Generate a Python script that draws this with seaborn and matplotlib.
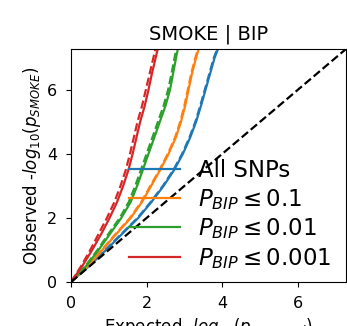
import matplotlib
matplotlib.use("Agg")
import matplotlib.pyplot as plt
import seaborn as sns
import pandas as pd
import numpy as np

# Observed -log10 p grid (y) and expected -log10 p (x) per subset
obs = [0, 0.5, 1.0, 1.5, 2.0, 2.5, 3.0, 3.5, 4.0, 4.5, 5.0, 5.5, 6.0, 6.5, 7.0, 7.4]
exp_all = [0, 0.48, 0.93, 1.35, 1.78, 2.13, 2.45, 2.73, 2.96, 3.15, 3.31, 3.44, 3.56, 3.68, 3.80, 3.93]
exp_p1 = [0, 0.45, 0.83, 1.20, 1.58, 1.88, 2.12, 2.36, 2.58, 2.77, 2.91, 3.02, 3.11, 3.20, 3.31, 3.41]
exp_p01 = [0, 0.40, 0.73, 1.03, 1.33, 1.58, 1.75, 1.90, 2.05, 2.20, 2.35, 2.50, 2.62, 2.70, 2.78, 2.85]
exp_p001 = [0, 0.30, 0.56, 0.80, 1.02, 1.22, 1.38, 1.52, 1.63, 1.73, 1.83, 1.95, 2.05, 2.14, 2.24, 2.32]
# dashed (second estimate) curves
exp_all_d = [0, 0.47, 0.91, 1.33, 1.76, 2.11, 2.43, 2.71, 2.94, 3.13, 3.29, 3.42, 3.54, 3.66, 3.78, 3.91]
exp_p1_d = [0, 0.44, 0.81, 1.18, 1.56, 1.86, 2.10, 2.34, 2.56, 2.75, 2.89, 3.00, 3.09, 3.18, 3.29, 3.39]
exp_p01_d = [0, 0.38, 0.70, 0.99, 1.29, 1.53, 1.70, 1.85, 2.00, 2.15, 2.30, 2.45, 2.57, 2.66, 2.74, 2.81]
exp_p001_d = [0, 0.27, 0.51, 0.73, 0.95, 1.15, 1.31, 1.45, 1.56, 1.66, 1.76, 1.88, 1.98, 2.08, 2.18, 2.26]

labels = ["All SNPs", r"$P_{BIP} \leq 0.1$", r"$P_{BIP} \leq 0.01$", r"$P_{BIP} \leq 0.001$"]
colors = ["#1f77b4", "#ff7f0e", "#2ca02c", "#d62728"]
solid = [exp_all, exp_p1, exp_p01, exp_p001]
dashed = [exp_all_d, exp_p1_d, exp_p01_d, exp_p001_d]
lim = 7.28

fig = plt.figure(figsize=(3.47, 3.26), dpi=100)
ax = fig.add_axes([71/347, 1 - 282/326, 275/347, 233/326])

handles = []
for lab, col, xs, xd in zip(labels, colors, solid, dashed):
    dfd = pd.DataFrame({"x": xd, "y": obs})
    sns.lineplot(data=dfd, x="x", y="y", ax=ax, color=col, linestyle="--",
                 linewidth=1.6, estimator=None, sort=False)
    dfs = pd.DataFrame({"x": xs, "y": obs})
    sns.lineplot(data=dfs, x="x", y="y", ax=ax, color=col, linewidth=1.6,
                 estimator=None, sort=False)
    handles.append(ax.lines[-1])

ax.axline((0, 0), slope=1, color="black", linestyle="--", linewidth=1.6)
ax.set_xlim(0, lim)
ax.set_ylim(0, lim)
ax.set_xticks([0, 2, 4, 6])
ax.set_yticks([0, 2, 4, 6])
ax.tick_params(labelsize=11.5, length=3.5, pad=6.5)
ax.set_title("SMOKE | BIP", fontsize=14, pad=7)
ax.set_xlabel(r"Expected -$log_{10}(p_{expected})$", fontsize=12)
ax.set_ylabel(r"Observed -$log_{10}(p_{SMOKE})$", fontsize=12, labelpad=3)

ax.legend(handles, labels, frameon=False, fontsize=16.5, loc="lower left",
          bbox_to_anchor=(0.21, 0.048), borderpad=0, borderaxespad=0,
          labelspacing=0.2, handlelength=2.23, handletextpad=0.78)

fig.savefig("out.png", dpi=100)
